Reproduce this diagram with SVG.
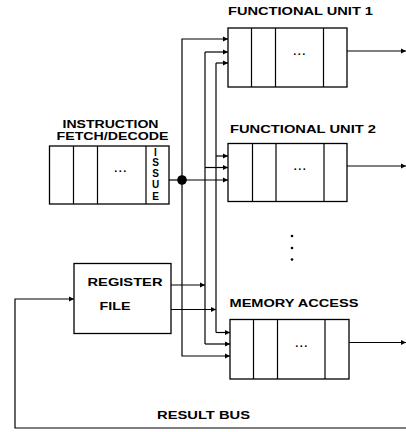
<svg xmlns="http://www.w3.org/2000/svg" width="406" height="432" viewBox="0 0 406 432">
<defs>
<marker id="ah" markerUnits="userSpaceOnUse" markerWidth="6" markerHeight="6" refX="5" refY="3" orient="auto">
<path d="M0,0.5 L5,3 L0,5.5 z" fill="#000"/>
</marker>
<style>
.box{fill:#fff;stroke:#000;stroke-width:1.3}
.ln{fill:none;stroke:#000;stroke-width:1.2}
.ar{fill:none;stroke:#000;stroke-width:1.2;marker-end:url(#ah)}
text{font-family:"Liberation Sans",Arial,sans-serif;font-weight:bold;font-size:10.5px;fill:#000}
.el{font-size:11px;letter-spacing:1.5px;text-anchor:middle}
.iss{font-size:10px;text-anchor:middle}
</style>
</defs>
<rect width="406" height="432" fill="#fff"/>

<g id="connectors">
<path class="ln" d="M169,180 H182"/>
<path class="ar" d="M182,180 V39 H228"/>
<path class="ar" d="M182,180 H228"/>
<path class="ar" d="M182,180 V356 H230"/>
<path class="ln" d="M205,52 V344"/>
<path class="ar" d="M205,52 H228"/>
<path class="ar" d="M205,167.5 H228"/>
<path class="ar" d="M205,344 H230"/>
<path class="ar" d="M171,285 H205"/>
<path class="ln" d="M216,63 V332.5"/>
<path class="ar" d="M216,63 H228"/>
<path class="ar" d="M216,156 H228"/>
<path class="ar" d="M216,332.5 H230"/>
<path class="ar" d="M171,309.5 H216"/>
<path class="ar" d="M347,51 H406"/>
<path class="ar" d="M347,166 H406"/>
<path class="ar" d="M349,342.5 H406"/>
<path class="ar" d="M406,428 H15 V299 H74"/>
<circle cx="182" cy="180" r="4.8" fill="#000"/>
</g>

<g id="fu1">
<rect class="box" x="228" y="28" width="119" height="59"/>
<path class="ln" d="M251.5,28 V87 M275.5,28 V87 M323.5,28 V87"/>
<text class="el" x="300" y="55">...</text>
<text x="228" y="15" textLength="145" lengthAdjust="spacingAndGlyphs">FUNCTIONAL UNIT 1</text>
</g>

<g id="fu2">
<rect class="box" x="228" y="143.5" width="119" height="58"/>
<path class="ln" d="M252.5,143.5 V201.5 M276,143.5 V201.5 M324,143.5 V201.5"/>
<text class="el" x="300.5" y="170">...</text>
<text x="230" y="133" textLength="146" lengthAdjust="spacingAndGlyphs">FUNCTIONAL UNIT 2</text>
</g>

<g id="vdots">
<circle cx="292" cy="236" r="1.3" fill="#000"/>
<circle cx="292" cy="248" r="1.3" fill="#000"/>
<circle cx="292" cy="259.5" r="1.3" fill="#000"/>
</g>

<g id="ma">
<rect class="box" x="230" y="319.5" width="119" height="59.5"/>
<path class="ln" d="M253.5,319.5 V379 M277.5,319.5 V379 M325,319.5 V379"/>
<text class="el" x="302" y="347">...</text>
<text x="229.5" y="307" textLength="129" lengthAdjust="spacingAndGlyphs">MEMORY ACCESS</text>
</g>

<g id="ifd">
<rect class="box" x="49.5" y="146" width="119.5" height="58"/>
<path class="ln" d="M73.5,146 V204 M97.5,146 V204 M146,146 V204"/>
<text class="el" x="121" y="172">...</text>
<text x="62.5" y="128" textLength="96" lengthAdjust="spacingAndGlyphs">INSTRUCTION</text>
<text x="56.5" y="140" textLength="112" lengthAdjust="spacingAndGlyphs">FETCH/DECODE</text>
<text class="iss" x="155.5" y="155.5">I</text>
<text class="iss" x="155.5" y="165.5">S</text>
<text class="iss" x="155.5" y="176.5">S</text>
<text class="iss" x="155.5" y="188">U</text>
<text class="iss" x="155.5" y="200">E</text>
</g>

<g id="regfile">
<rect class="box" x="74" y="263.5" width="97" height="70"/>
<text x="87.5" y="286" textLength="75" lengthAdjust="spacingAndGlyphs">REGISTER</text>
<text x="99.5" y="310" textLength="31" lengthAdjust="spacingAndGlyphs">FILE</text>
</g>

<g id="resultbus">
<text x="157" y="419" textLength="93" lengthAdjust="spacingAndGlyphs">RESULT BUS</text>
</g>
</svg>
